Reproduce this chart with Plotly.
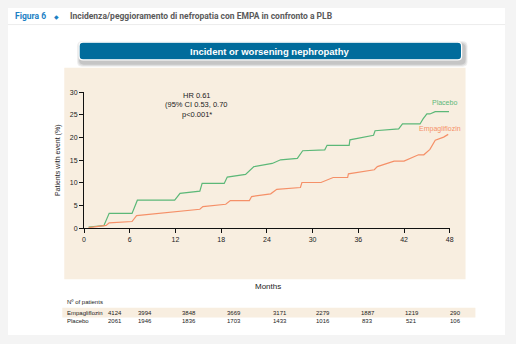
import plotly.graph_objects as go

W, H = 516, 344

# ---- data ----
placebo_months = [0.6, 2.6, 3.3, 6.3, 7.0, 11.9, 12.6, 15.2, 15.5, 18.4, 18.8, 21.2, 22.3, 24.7, 25.8, 28.0,
                  28.7, 31.6, 31.9, 34.8, 34.9, 36.3, 38.0, 38.2, 41.3, 41.8, 44.1, 44.5, 45.0, 45.4, 46.1, 47.9]
placebo_pct = [0.3, 0.6, 3.3, 3.3, 6.2, 6.2, 7.7, 8.2, 9.9, 9.9, 11.3, 11.9, 13.6, 14.3, 15.1, 15.4,
               17.1, 17.3, 18.3, 18.3, 19.5, 20.0, 20.5, 21.5, 21.9, 23.0, 23.0, 24.1, 25.2, 25.2, 25.7, 25.7]

empa_months = [0.6, 2.9, 3.3, 6.3, 6.9, 15.2, 15.6, 18.6, 19.2, 21.7, 22.0, 24.5, 25.3, 28.4, 28.6, 31.1,
               32.7, 34.6, 34.7, 38.1, 38.5, 40.7, 42.0, 43.9, 44.6, 45.4, 46.1, 47.2, 47.8]
empa_pct = [0.15, 0.65, 1.2, 1.5, 2.8, 4.2, 4.8, 5.3, 6.1, 6.1, 7.0, 7.6, 8.6, 9.0, 10.1, 10.1,
            11.2, 11.2, 12.0, 12.9, 13.6, 14.8, 14.8, 16.2, 16.2, 17.4, 19.4, 20.1, 20.7]

x_ticks = [0, 6, 12, 18, 24, 30, 36, 42, 48]
y_ticks = [0, 5, 10, 15, 20, 25, 30]

risk_labels = ["Empagliflozin", "Placebo"]
empa_at_risk = ["4124", "3994", "3848", "3669", "3171", "2279", "1887", "1219", "290"]
placebo_at_risk = ["2061", "1946", "1836", "1703", "1433", "1016", "833", "521", "106"]

stats_lines = ["HR 0.61", "(95% CI 0.53, 0.70", "p<0.001*"]

# ---- styling ----
GREEN = "#5cb878"
ORANGE = "#f59068"
BLUE_BAR = "#016c9c"
BEIGE = "#f8eee0"
NARROW = "Liberation Sans, Arial, sans-serif"


def px(x):
    return x / W


def py(y):
    return 1 - y / H


def rounded_path(x0, y0, x1, y1, r):
    rx, ry = r / W, r / H
    X0, X1 = px(x0), px(x1)
    Yt, Yb = py(y0), py(y1)
    return (f"M {X0+rx},{Yt} L {X1-rx},{Yt} Q {X1},{Yt} {X1},{Yt-ry} "
            f"L {X1},{Yb+ry} Q {X1},{Yb} {X1-rx},{Yb} L {X0+rx},{Yb} "
            f"Q {X0},{Yb} {X0},{Yb+ry} L {X0},{Yt-ry} Q {X0},{Yt} {X0+rx},{Yt} Z")


fig = go.Figure()
fig.add_trace(go.Scatter(x=placebo_months, y=placebo_pct, mode="lines",
                         line=dict(color=GREEN, width=1.2), hoverinfo="skip", showlegend=False))
fig.add_trace(go.Scatter(x=empa_months, y=empa_pct, mode="lines",
                         line=dict(color=ORANGE, width=1.2), hoverinfo="skip", showlegend=False))

shapes = []
# white panel
shapes.append(dict(type="rect", xref="paper", yref="paper", x0=px(6), x1=px(509), y0=py(4), y1=py(338),
                   fillcolor="white", line=dict(width=0), layer="below"))
# header separator
shapes.append(dict(type="line", xref="paper", yref="paper", x0=px(6), x1=px(509), y0=py(21), y1=py(21),
                   line=dict(color="#ececec", width=1), layer="below"))
# beige chart area
shapes.append(dict(type="rect", xref="paper", yref="paper", x0=px(63), x1=px(469), y0=py(65), y1=py(281),
                   fillcolor=BEIGE, line=dict(width=0), layer="below"))
# title bar shadow
for off, op in [(4, 0.10), (3, 0.12), (2, 0.15)]:
    shapes.append(dict(type="path", xref="paper", yref="paper",
                       path=rounded_path(78 - off + 2, 39 - off + 3, 465 + off + 2, 57 + off + 3, 5),
                       fillcolor=f"rgba(80,80,80,{op})", line=dict(width=0), layer="below"))
# title bar
shapes.append(dict(type="path", xref="paper", yref="paper", path=rounded_path(78, 39, 465, 57, 4),
                   fillcolor=BLUE_BAR, line=dict(color="white", width=1.2), layer="below"))
# at-risk band
shapes.append(dict(type="rect", xref="paper", yref="paper", x0=px(61), x1=px(479), y0=py(310), y1=py(320),
                   fillcolor=BEIGE, line=dict(width=0), layer="below"))

ann = []
# header
ann.append(dict(xref="paper", yref="paper", x=px(11), y=py(12), xanchor="left", yanchor="middle",
                text="<b>Figura 6</b>", showarrow=False,
                font=dict(family="Roboto, sans-serif", size=8.5, color="#1b7fc4")))
ann.append(dict(xref="paper", yref="paper", x=px(55.5), y=py(12.5), xanchor="center", yanchor="middle",
                text="◆", showarrow=False, font=dict(family="DejaVu Sans", size=6, color="#1b7fc4")))
ann.append(dict(xref="paper", yref="paper", x=px(67), y=py(12), xanchor="left", yanchor="middle",
                text="<b>Incidenza/peggioramento di nefropatia con EMPA in confronto a PLB</b>", showarrow=False,
                font=dict(family="Roboto, sans-serif", size=8.5, color="#5a5a5a")))
# bar title
ann.append(dict(xref="paper", yref="paper", x=px(271.5), y=py(48), xanchor="center", yanchor="middle",
                text="<b>Incident or worsening nephropathy</b>", showarrow=False,
                font=dict(family=NARROW, size=9.5, color="white")))
# stats
for i, s in enumerate(stats_lines):
    ann.append(dict(xref="paper", yref="paper", x=px(197), y=py(93 + 10 * i), xanchor="center", yanchor="middle",
                    text=s, showarrow=False, font=dict(family=NARROW, size=7.5, color="#222")))
# series labels
ann.append(dict(xref="paper", yref="paper", x=px(448), y=py(101), xanchor="center", yanchor="middle",
                text="Placebo", showarrow=False, font=dict(family=NARROW, size=7, color=GREEN)))
ann.append(dict(xref="paper", yref="paper", x=px(443), y=py(128), xanchor="center", yanchor="middle",
                text="Empagliflozin", showarrow=False, font=dict(family=NARROW, size=7, color=ORANGE)))
# axis titles
ann.append(dict(xref="paper", yref="paper", x=px(269), y=py(288), xanchor="center", yanchor="middle",
                text="Months", showarrow=False, font=dict(family=NARROW, size=8, color="#222")))
ann.append(dict(xref="paper", yref="paper", x=px(56), y=py(159), xanchor="center", yanchor="middle",
                text="Patients with event (%)", textangle=-90, showarrow=False,
                font=dict(family=NARROW, size=7, color="#222")))
# at-risk table
ann.append(dict(xref="paper", yref="paper", x=px(64), y=py(304), xanchor="left", yanchor="middle",
                text="Nº of patients", showarrow=False, font=dict(family=NARROW, size=6, color="#222")))
col_x = [114.5, 144.5, 189, 234.5, 281, 325, 370, 414.5, 459]
for r, (lab, vals) in enumerate(zip(risk_labels, [empa_at_risk, placebo_at_risk])):
    yy = py(315 + 8.5 * r)
    ann.append(dict(xref="paper", yref="paper", x=px(64), y=yy, xanchor="left", yanchor="middle",
                    text=lab, showarrow=False, font=dict(family=NARROW, size=6, color="#222")))
    for cx, v in zip(col_x, vals):
        ann.append(dict(xref="paper", yref="paper", x=px(cx), y=yy, xanchor="center", yanchor="middle",
                        text=v, showarrow=False, font=dict(family=NARROW, size=6, color="#222")))

fig.update_layout(
    width=W, height=H, margin=dict(l=0, r=0, t=0, b=0),
    paper_bgcolor="#f4f4f4", plot_bgcolor="rgba(0,0,0,0)",
    shapes=shapes, annotations=ann,
    xaxis=dict(domain=[px(83), px(453)], range=[0, 48], tickvals=x_ticks, showgrid=False, zeroline=False,
               showline=True, linecolor="#111", linewidth=1.2, ticks="outside", ticklen=4, tickcolor="#111",
               tickfont=dict(family=NARROW, size=7, color="#222"), fixedrange=True),
    yaxis=dict(domain=[py(229), py(90)], range=[0, 30], tickvals=y_ticks, showgrid=False, zeroline=False,
               showline=True, linecolor="#111", linewidth=1.2, ticks="outside", ticklen=4, tickcolor="#111",
               tickfont=dict(family=NARROW, size=7, color="#222"), fixedrange=True),
)

fig.write_html("out.html")
